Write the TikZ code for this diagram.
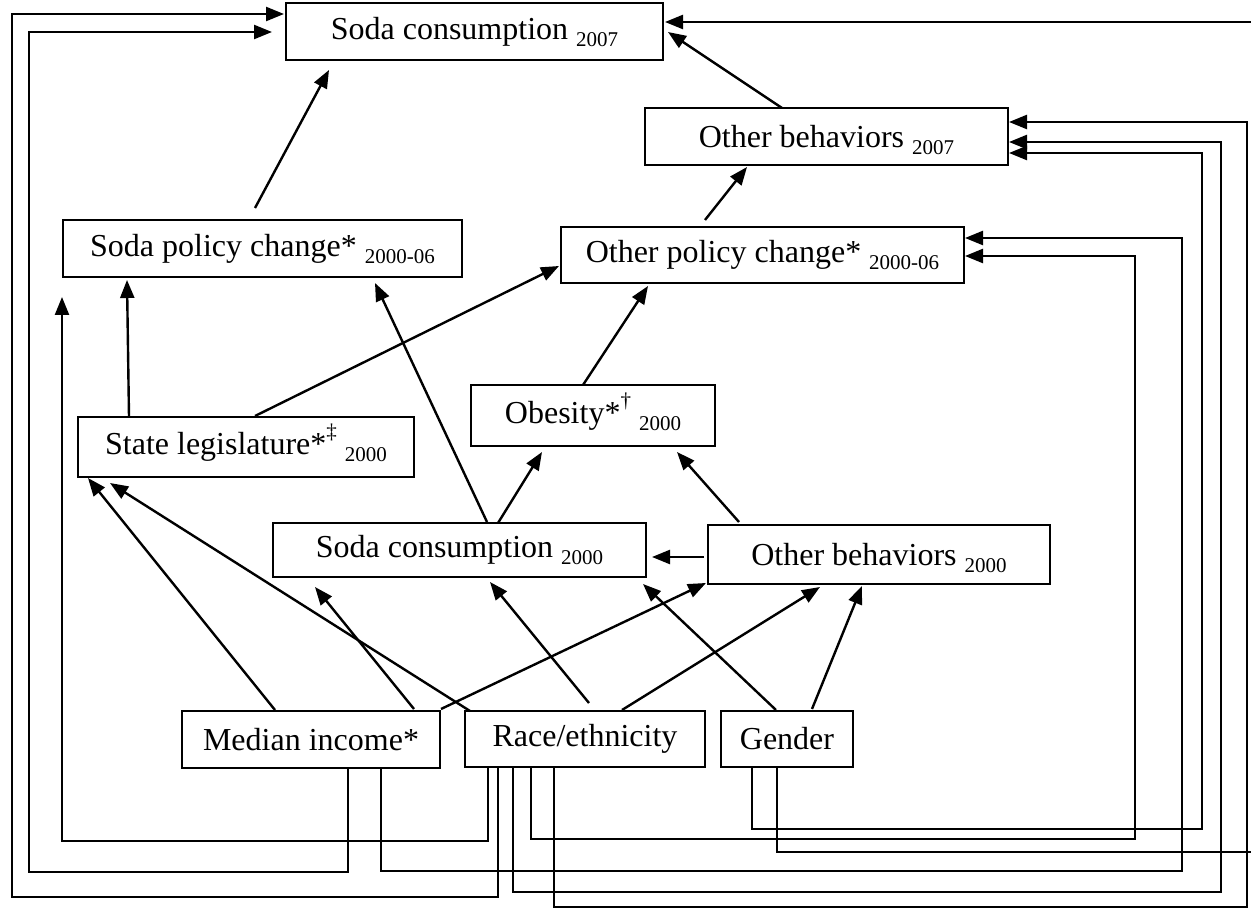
\documentclass[tikz,border=0pt]{standalone}
\usepackage{fontspec}
\setmainfont{Liberation Serif}
\usetikzlibrary{arrows.meta,calc}
\newcommand{\sbs}[1]{\raisebox{-0.22em}[0pt][0pt]{\fontsize{21}{24}\selectfont #1}}
\newcommand{\sps}[1]{\raisebox{0.5em}[0pt][0pt]{\fontsize{21}{24}\selectfont #1}}
\begin{document}
\begin{tikzpicture}[x=1pt,y=-1pt,
  box/.style={draw, line width=2pt, inner sep=0pt, outer sep=0pt, anchor=north west,
    font=\fontsize{32}{38}\selectfont},
  arr/.style={line width=2.4pt, -{Triangle[length=18pt,width=14pt]}},
  ln/.style={line width=2.4pt}]
\useasboundingbox (0,0) rectangle (1251,909);

% nodes
\node[box, minimum width=377pt, minimum height=57pt] (s07) at (286,3) {Soda consumption \sbs{2007}};
\node[box, minimum width=363pt, minimum height=57pt] (ob07) at (645,108) {Other behaviors \sbs{2007}};
\node[box, minimum width=399pt, minimum height=57pt] (spc) at (63,220) {Soda policy change* \sbs{2000-06}};
\node[box, minimum width=403pt, minimum height=56pt] (opc) at (561,227) {Other policy change* \sbs{2000-06}};
\node[box, minimum width=336pt, minimum height=60pt] (sl) at (78,417) {State legislature*\sps{‡} \sbs{2000}};
\node[box, minimum width=244pt, minimum height=61pt] (ob) at (471,385) {Obesity*\sps{†} \sbs{2000}};
\node[box, minimum width=373pt, minimum height=54pt] (s00) at (273,523) {Soda consumption \sbs{2000}};
\node[box, minimum width=342pt, minimum height=59pt] (ob00) at (708,525) {Other behaviors \sbs{2000}};
\node[box, minimum width=258pt, minimum height=57pt] (mi) at (182,711) {Median income*};
\node[box, minimum width=240pt, minimum height=56pt] (re) at (465,711) {Race/ethnicity};
\node[box, minimum width=132pt, minimum height=56pt] (ge) at (721,711) {Gender};

% free ends at the picture's right edge
\coordinate (edgeA) at (1252,852);
\coordinate (edgeB) at (1252,22);

% direct arrows
\draw[arr] ($(spc.north west)+(192,-12)$) -- ($(s07.south west)+(43,10)$);
\draw[arr] ($(ob07.north west)+(137,0)$) -- ($(s07.north west)+(382,29)$);
\draw[arr] ($(opc.north west)+(144,-7)$) -- ($(ob07.south west)+(102,2)$);
\draw[arr] ($(sl.north west)+(51,0)$) -- ($(spc.south west)+(64,3)$);
\draw[arr] ($(sl.north west)+(177,-1)$) -- ($(opc.north west)+(-2,39)$);
\draw[arr] ($(s00.north west)+(214,-1)$) -- ($(spc.south west)+(312,6)$);
\draw[arr] ($(ob.north west)+(112,0)$) -- ($(opc.south west)+(87,3)$);
\draw[arr] ($(s00.north west)+(225,0)$) -- ($(ob.south west)+(71,6)$);
\draw[arr] ($(ob00.north west)+(31,-3)$) -- ($(ob.south west)+(206,6)$);
\draw[arr] ($(ob00.north west)+(-4,32)$) -- ($(s00.north west)+(379,34)$);
\draw[arr] ($(mi.north west)+(93,-1)$) -- ($(sl.south west)+(10,1)$);
\draw[arr] ($(re.north west)+(5,0)$) -- ($(sl.south west)+(32,6)$);
\draw[arr] ($(mi.north west)+(232,-2)$) -- ($(s00.south west)+(42,10)$);
\draw[arr] ($(mi.north west)+(259,-2)$) -- ($(ob00.south west)+(-2,-1)$);
\draw[arr] ($(re.north west)+(124,-8)$) -- ($(s00.south west)+(217,5)$);
\draw[arr] ($(re.north west)+(157,-1)$) -- ($(ob00.south west)+(112,3)$);
\draw[arr] ($(ge.north west)+(55,-1)$) -- ($(s00.south west)+(370,7)$);
\draw[arr] ($(ge.north west)+(91,-2)$) -- ($(ob00.south west)+(154,2)$);

% routed connectors, left
\draw[arr] ($(re.south west)+(33,0)$) -- ++(0,130) -| (12,14) -- ($(s07.north west)+(-2,11)$);
\draw[arr] ($(mi.south west)+(166,0)$) -- ++(0,104) -| (29,32) -- ($(s07.north west)+(-14,29)$);
\draw[arr] ($(re.south west)+(23,0)$) -- ++(0,74) -| ($(spc.south west)+(-1,20)$);

% routed connectors, right
\draw[arr] ($(ge.south west)+(31,0)$) -- ++(0,62) -| (1202,153) -- ($(ob07.north west)+(364,45)$);
\draw[ln] ($(ge.south west)+(56,0)$) -- ++(0,85) -- (edgeA);
\draw[arr] (edgeB) -- ($(s07.north west)+(379,19)$);
\draw[arr] ($(re.south west)+(66,0)$) -- ++(0,72) -| (1135,256) -- ($(opc.north west)+(404,29)$);
\draw[arr] ($(mi.south west)+(199,0)$) -- ++(0,103) -| (1182,238) -- ($(opc.north west)+(404,11)$);
\draw[arr] ($(re.south west)+(48,0)$) -- ++(0,125) -| (1221,142) -- ($(ob07.north west)+(364,34)$);
\draw[arr] ($(re.south west)+(89,0)$) -- ++(0,140) -| (1247,122) -- ($(ob07.north west)+(364,14)$);
\end{tikzpicture}
\end{document}
